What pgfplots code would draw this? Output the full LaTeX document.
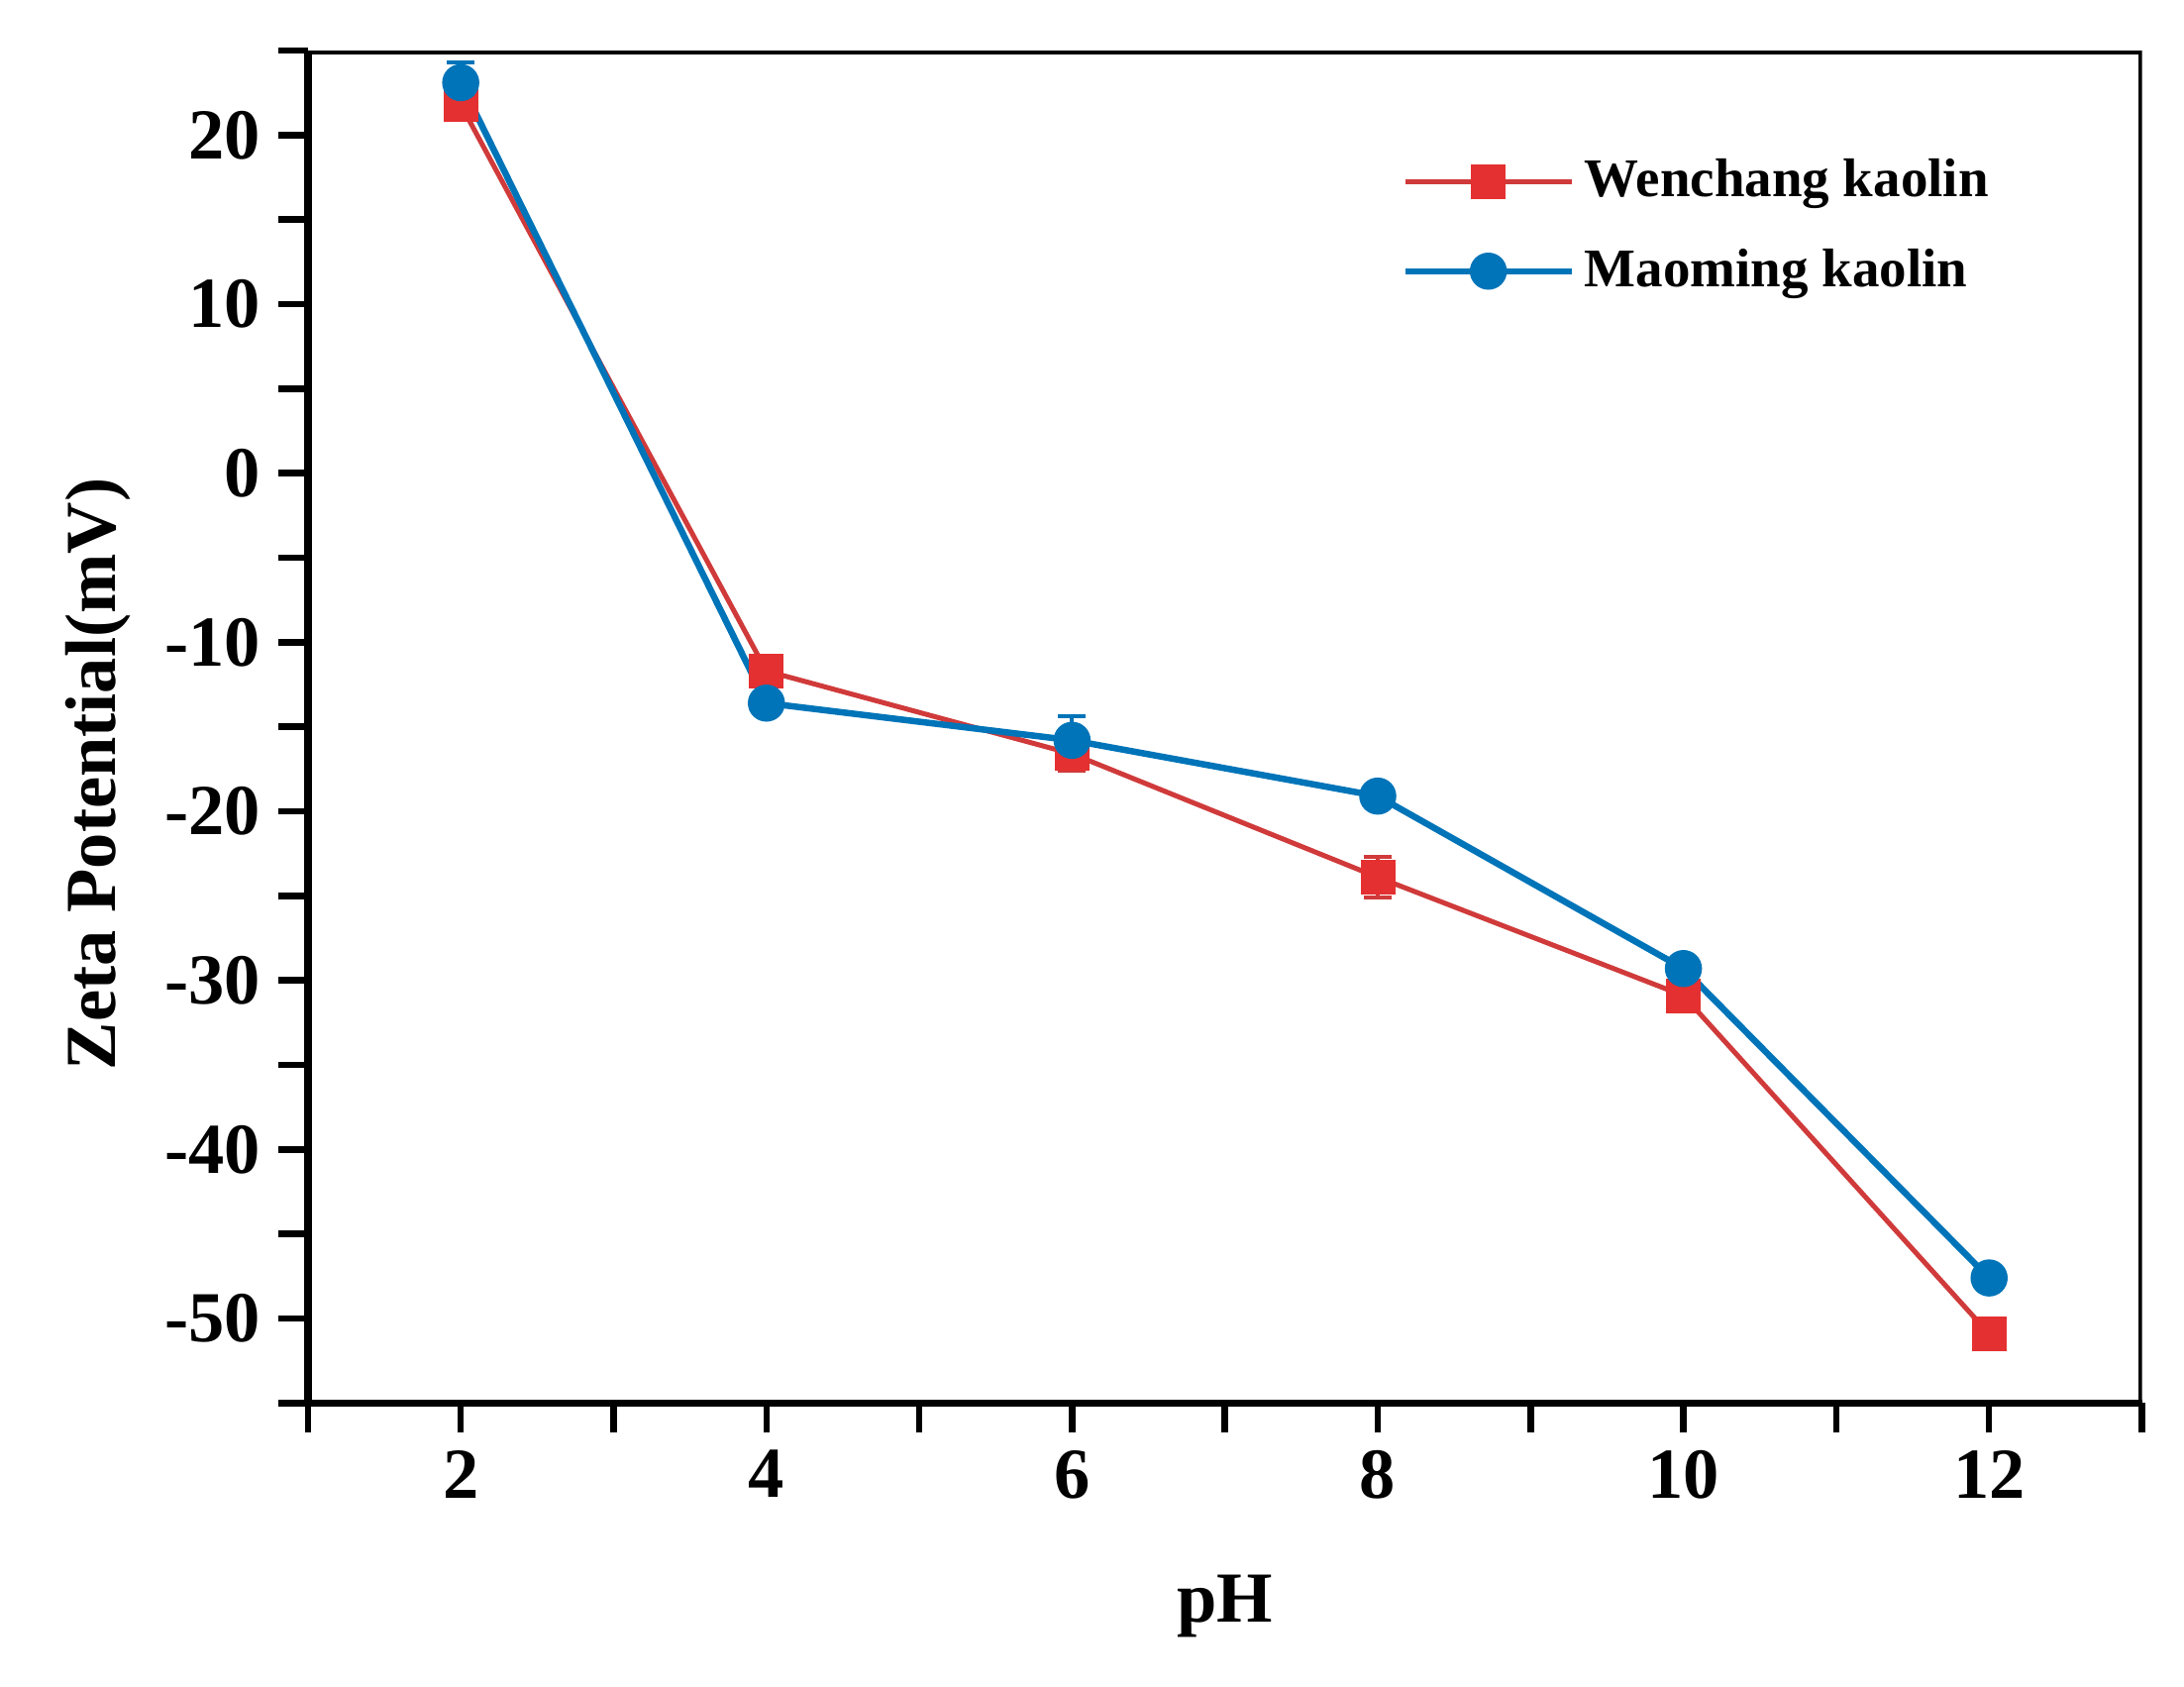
\documentclass[border=0pt]{standalone}
\usepackage{pgfplots}
\pgfplotsset{compat=1.18}
\usepackage{fontspec}
\setmainfont{Liberation Serif}
\definecolor{wred}{RGB}{208,58,58}
\definecolor{wredfill}{RGB}{228,48,48}
\definecolor{mblue}{RGB}{0,116,184}
\begin{document}
\begin{tikzpicture}
\path[use as bounding box] (-62.2pt,-57.2pt) rectangle (379pt,283.4pt);
\begin{axis}[
  at={(0,0)}, anchor=south west,
  scale only axis,
  width=370.5pt, height=273.2pt,
  xmin=1, xmax=13, ymin=-55, ymax=25,
  xtick={2,4,...,12}, ytick={-50,-40,...,20},
  minor xtick={1,3,...,13}, minor ytick={-55,-45,...,25},
  axis x line*=bottom, axis y line*=left,
  axis line style={line width=1.5pt},
  every tick/.style={black, line width=1.3pt},
  major tick length=6pt, minor tick length=6pt,
  tick align=outside,
  /pgf/number format/assume math mode=true,
  ticklabel style={font=\fontsize{14.5}{17}\selectfont\bfseries},
  label style={font=\fontsize{14.5}{17}\selectfont\bfseries},
  xlabel={pH}, ylabel={Zeta Potential(mV)},
  xlabel style={yshift=-8.5pt},
  ylabel style={at={(ticklabel cs:0.465)}},
  legend style={draw=none, fill=none, at={(rel axis cs:0.596,0.928)}, anchor=north west,
    font=\fontsize{11}{13}\selectfont\bfseries, row sep=5pt, inner sep=0pt},
  legend cell align=left,
  legend image code/.code={\draw[#1, mark repeat=2, mark phase=2] plot coordinates {(0pt,0pt) (16.8pt,0pt) (33.6pt,0pt)};},
]
\draw[line width=1.5pt] (rel axis cs:0,1) -- (rel axis cs:1,1) -- (rel axis cs:1,0);
\addplot[color=wred, line width=1pt, mark=square*, mark size=3pt,
  mark options={fill=wredfill, draw=wredfill, solid},
  error bars/.cd, y dir=both, y explicit,
  error bar style={line width=0.8pt, color=wred},
  error mark options={rotate=90, mark size=2.8pt, line width=0.8pt, color=wred}]
  table[x=x, y=y, y error=e] {
x y e
2 21.8 0.3
4 -11.7 0.5
6 -16.6 1.0
8 -23.9 1.2
10 -30.9 0.4
12 -50.9 0.5
};
\addlegendentry{Wenchang kaolin}
\addplot[color=mblue, line width=1.3pt, mark=*, mark size=3.1pt,
  mark options={fill=mblue, draw=mblue, solid},
  error bars/.cd, y dir=both, y explicit,
  error bar style={line width=0.8pt, color=mblue},
  error mark options={rotate=90, mark size=2.8pt, line width=0.8pt, color=mblue}]
  table[x=x, y=y, y error=e] {
x y e
2 23.1 1.2
4 -13.6 0.4
6 -15.8 1.4
8 -19.1 0.3
10 -29.3 0.5
12 -47.6 0.4
};
\addlegendentry{Maoming kaolin}
\end{axis}
\end{tikzpicture}
\end{document}
